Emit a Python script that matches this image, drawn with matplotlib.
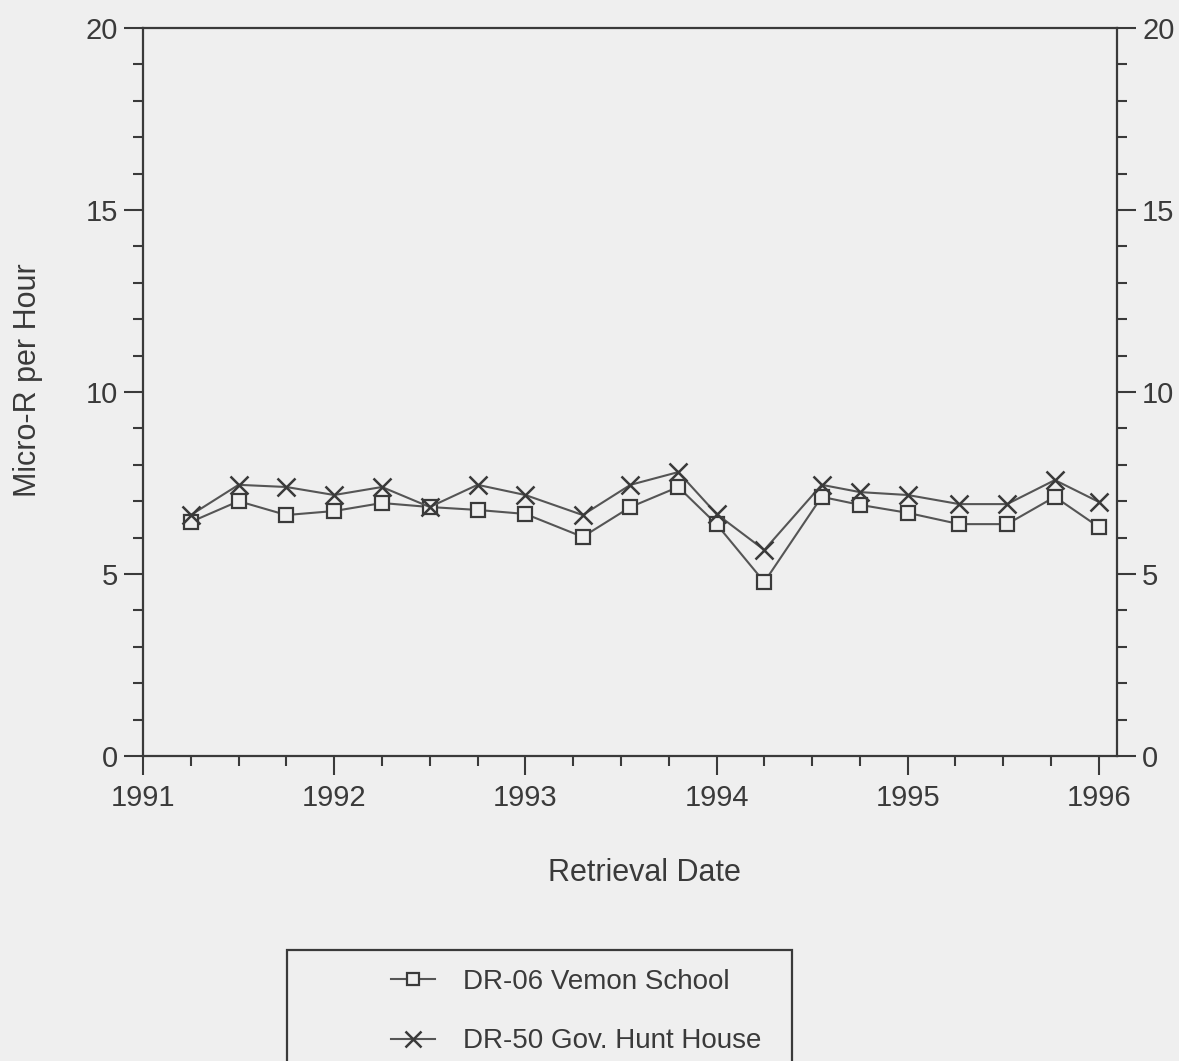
import matplotlib
matplotlib.use("Agg")
import matplotlib.pyplot as plt
from matplotlib.patches import Rectangle
from matplotlib.ticker import MultipleLocator

plt.rcParams['font.family'] = ['Liberation Sans', 'DejaVu Sans']

dates = [1991.25, 1991.5, 1991.75, 1992.0, 1992.25, 1992.5, 1992.75, 1993.0,
         1993.3, 1993.55, 1993.8, 1994.0, 1994.25, 1994.55, 1994.75, 1995.0,
         1995.27, 1995.52, 1995.77, 1996.0]
vernon = [6.43, 7.0, 6.62, 6.73, 6.95, 6.84, 6.76, 6.65, 6.02, 6.84,
          7.39, 6.37, 4.78, 7.12, 6.9, 6.68, 6.37, 6.37, 7.12, 6.29]
hunt = [6.62, 7.45, 7.39, 7.17, 7.39, 6.84, 7.45, 7.17, 6.62, 7.45,
        7.8, 6.65, 5.66, 7.45, 7.25, 7.17, 6.92, 6.92, 7.58, 6.98]
labels = ["DR-06 Vemon School", "DR-50 Gov. Hunt House"]
year_ticks = [1991, 1992, 1993, 1994, 1995, 1996]

BG = "#efefef"
INK = "#3a3a3a"
LINE = "#555555"

W, H = 1179, 1061
fig = plt.figure(figsize=(W / 100, H / 100), dpi=100, facecolor=BG)
ax = fig.add_axes([143 / W, 1 - 756 / H, (1117 - 143) / W, (756 - 28) / H])
ax.set_facecolor(BG)

ax.plot(dates, vernon, color=LINE, lw=1.5, marker='s', ms=10, mfc=BG,
        mec=INK, mew=1.6, label=labels[0], zorder=3)
ax.plot(dates, hunt, color=LINE, lw=1.5, marker='x', ms=13, mec=INK,
        mew=1.8, label=labels[1], zorder=4)

ax.set_xlim(1991, 1996.095)
ax.set_ylim(0, 20)
ax.set_xticks(year_ticks)
ax.xaxis.set_minor_locator(MultipleLocator(0.25))
ax.yaxis.set_major_locator(MultipleLocator(5))
ax.yaxis.set_minor_locator(MultipleLocator(1))

ax.tick_params(axis='both', which='major', direction='out', length=14,
               width=1.5, colors=INK, labelsize=21, labelcolor=INK)
ax.tick_params(axis='both', which='minor', direction='out', length=7,
               width=1.5, colors=INK)
ax.tick_params(axis='y', which='both', left=True, right=True,
               labelleft=True, labelright=True)
ax.tick_params(axis='y', which='major', pad=4)
ax.tick_params(axis='x', which='major', pad=6)

for sp in ax.spines.values():
    sp.set_color(INK)
    sp.set_linewidth(1.6)

ax.set_xlabel("Retrieval Date", fontsize=22, color=INK)
ax.set_ylabel("Micro-R per Hour", fontsize=22, color=INK)
ax.xaxis.set_label_coords((644 - 143) / 974, -(873 - 756) / 728,
                          transform=ax.transAxes)
ax.xaxis.label.set_va('center')
ax.yaxis.set_label_coords(-(143 - 28) / 974, (756 - 380) / 728,
                          transform=ax.transAxes)
ax.yaxis.label.set_va('center')

# legend box (extends past the bottom of the page)
box = Rectangle((287 / W, 1 - 1100 / H), (792 - 287) / W, (1100 - 950) / H,
                transform=fig.transFigure, fill=False, edgecolor=INK,
                linewidth=1.6, clip_on=False)
fig.patches.append(box)

handles, lbls = ax.get_legend_handles_labels()
leg = fig.legend(handles, lbls, loc='upper left',
                 bbox_to_anchor=(366 / W, 1 - 944 / H),
                 frameon=False, fontsize=20, handlelength=1.6,
                 handletextpad=1.0, labelspacing=1.2, labelcolor=INK,
                 markerscale=0.85)

fig.savefig("out.png", dpi=100, facecolor=BG)
